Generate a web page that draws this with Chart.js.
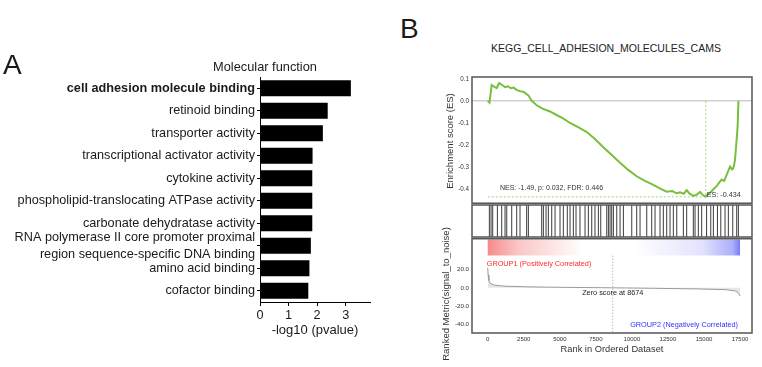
<!DOCTYPE html>
<html>
<head>
<meta charset="utf-8">
<script src="https://cdn.jsdelivr.net/npm/chart.js@4.4.0/dist/chart.umd.min.js"></script>
<style>
  body { margin: 0; background: #fff; }
  #page { position: relative; width: 762px; height: 367px; overflow: hidden;
          font-family: "Liberation Sans", Arial, sans-serif; color: #1a1a1a; }
  canvas { position: absolute; }
  .txt { position: absolute; white-space: nowrap; line-height: 1; }
  .rot { transform: translate(-50%, -50%) rotate(-90deg); }
</style>
</head>
<body>
<div id="page">
  <canvas id="goChart" width="390" height="367" style="left:0;top:0"></canvas>
  <canvas id="esChart" width="362" height="150" style="left:400px;top:60px"></canvas>
  <canvas id="hitChart" width="362" height="45" style="left:400px;top:200px"></canvas>
  <canvas id="metricChart" width="362" height="135" style="left:400px;top:232px"></canvas>

  <div class="txt" style="left:3px;top:51px;font-size:28px">A</div>
  <div class="txt" style="left:265px;top:61px;font-size:12.8px;transform:translateX(-50%)">Molecular function</div>
  <div class="txt" style="left:400px;top:15px;font-size:28px">B</div>
  <div class="txt" style="left:606px;top:43px;font-size:10.5px;color:#222;transform:translateX(-50%)">KEGG_CELL_ADHESION_MOLECULES_CAMS</div>
  <div class="txt rot" style="left:450px;top:141px;font-size:9.5px;color:#333">Enrichment score (ES)</div>
  <div class="txt rot" style="left:446px;top:294px;font-size:9.5px;color:#333">Ranked Metric(signal_to_noise)</div>
</div>

<script>
// Panel A - GO molecular function
const goTerms = [
  'cell adhesion molecule binding',
  'retinoid binding',
  'transporter activity',
  'transcriptional activator activity',
  'cytokine activity',
  'phospholipid-translocating ATPase activity',
  'carbonate dehydratase activity',
  ['RNA polymerase II core promoter proximal', 'region sequence-specific DNA binding'],
  'amino acid binding',
  'cofactor binding'
];
const goLogP = [3.18, 2.37, 2.2, 1.84, 1.83, 1.83, 1.83, 1.78, 1.73, 1.69];
const goTicks = [0, 1, 2, 3];

// Panel B - GSEA running enrichment score
const esRank = [0, 120, 280, 450, 620, 800, 1000, 1200, 1400, 1600, 1800, 2000, 2240, 2500, 2820,
  3050, 3400, 3800, 4320, 4800, 5200, 5710, 6300, 6870, 7400, 8020, 8600, 9180, 9700, 10330,
  10900, 11490, 12000, 12420, 12800, 13100, 13340, 13600, 13800, 14000, 14260, 14500, 14730,
  14900, 15120, 15300, 15420, 15650, 15880, 16050, 16230, 16400, 16600, 16810, 16950, 17040,
  17150, 17270, 17330, 17390];
const esScore = [0.0, -0.008, 0.072, 0.064, 0.058, 0.081, 0.072, 0.062, 0.066, 0.057, 0.06, 0.05,
  0.044, 0.04, 0.025, 0.0, -0.02, -0.035, -0.048, -0.065, -0.078, -0.1, -0.12, -0.141, -0.17,
  -0.21, -0.245, -0.28, -0.31, -0.341, -0.362, -0.38, -0.398, -0.411, -0.408, -0.418, -0.414,
  -0.42, -0.404, -0.42, -0.43, -0.424, -0.412, -0.425, -0.434, -0.42, -0.416, -0.4, -0.386,
  -0.37, -0.356, -0.362, -0.33, -0.297, -0.31, -0.304, -0.268, -0.171, -0.12, 0.0];
const esMin = -0.434;
const esMinRank = 15120;
const esTicks = [0.1, 0.0, -0.1, -0.2, -0.3, -0.4];

// gene set hits
const hitRanks = [115, 230, 345, 670, 970, 1200, 1320, 1665, 2010, 2240, 2700, 2820, 3745, 3860,
  4045, 4205, 4440, 4670, 5015, 5245, 5520, 5710, 5940, 6125, 6400, 6750, 6980, 7215, 7440,
  7675, 7840, 8255, 8370, 8485, 8600, 8715, 8950, 9180, 9410, 9990, 10335, 10565, 11030, 11375,
  11605, 11950, 12180, 12415, 12645, 12875, 13110, 13570, 13800, 14260, 14380, 14610, 14840,
  15180, 15470, 15650, 15935, 16165, 16460, 16690, 16995, 17270, 17385];

// ranked list metric
const metricRank = [0, 30, 80, 200, 500, 1200, 3000, 6000, 8674, 11500, 14500, 16500, 17200, 17400, 17500];
const metricValue = [22, 14, 8, 4.5, 2.8, 1.8, 1.0, 0.4, 0, -0.5, -1.2, -2, -3.5, -6, -9];
const metricTicks = [20, 0, -20, -40];
const rankTicks = [0, 2500, 5000, 7500, 10000, 12500, 15000, 17500];
const zeroCross = 8674;
const nesText = 'NES: -1.49, p: 0.032, FDR: 0.446';

const FONT = '"Liberation Sans", Arial, sans-serif';
Chart.defaults.font.family = FONT;
Chart.defaults.animation = false;
Chart.defaults.responsive = false;
Chart.defaults.plugins.legend.display = false;
Chart.defaults.plugins.tooltip.enabled = false;

const rankMin = -1090, rankMax = 18330;
const green = '#77bf3c';
const lightGreen = '#a2d677';

const frame = {
  id: 'frame',
  afterDraw(chart) {
    const { ctx, chartArea: a } = chart;
    ctx.save();
    ctx.strokeStyle = '#555';
    ctx.lineWidth = 1.5;
    ctx.strokeRect(a.left, a.top, a.right - a.left, a.bottom - a.top);
    ctx.restore();
  }
};

// A
new Chart(document.getElementById('goChart'), {
  type: 'bar',
  data: {
    labels: goTerms,
    datasets: [{ data: goLogP, backgroundColor: '#000', barPercentage: 0.71, categoryPercentage: 1 }]
  },
  options: {
    indexAxis: 'y',
    layout: { padding: { top: 77, right: 20, bottom: 25, left: 0 } },
    scales: {
      x: {
        min: 0, max: 3.85,
        afterBuildTicks: s => { s.ticks = goTicks.map(v => ({ value: v })); },
        afterFit: s => { s.height = 40; },
        ticks: { color: '#1a1a1a', font: { size: 12.7 }, padding: 2 },
        grid: { drawOnChartArea: false, tickLength: 4, color: '#000' },
        border: { color: '#000', width: 1 },
        title: { display: true, text: '-log10 (pvalue)', color: '#1a1a1a', font: { size: 13 }, padding: { top: 0, bottom: 4 } }
      },
      y: {
        afterFit: s => { s.width = 260; },
        ticks: {
          autoSkip: false, color: '#1a1a1a', padding: 2,
          font: c => c.index === 0
            ? { size: 12.7, weight: 'bold' }
            : { size: 12.7, lineHeight: 1.34 }
        },
        grid: { drawOnChartArea: false, offset: false, tickLength: 3, color: '#000' },
        border: { color: '#000', width: 1 }
      }
    }
  }
});

// B - running ES
new Chart(document.getElementById('esChart'), {
  type: 'line',
  data: {
    datasets: [
      { data: esRank.map((r, i) => ({ x: r, y: esScore[i] })), borderColor: green, borderWidth: 2, pointRadius: 0 },
      { data: [{ x: 0, y: esMin }, { x: esMinRank, y: esMin }], borderColor: lightGreen, borderWidth: 1, borderDash: [2, 2], pointRadius: 0 },
      { data: [{ x: esMinRank, y: 0 }, { x: esMinRank, y: esMin }], borderColor: lightGreen, borderWidth: 1, borderDash: [2, 2], pointRadius: 0 }
    ]
  },
  options: {
    layout: { padding: { top: 17, right: 10, bottom: 5, left: 0 } },
    scales: {
      x: { type: 'linear', display: false, min: rankMin, max: rankMax },
      y: {
        min: -0.463, max: 0.108,
        afterFit: s => { s.width = 72; },
        afterBuildTicks: s => { s.ticks = esTicks.map(v => ({ value: v })); },
        ticks: { callback: v => v.toFixed(1), color: '#333', font: { size: 6.3 }, padding: 3 },
        grid: { drawTicks: false, lineWidth: 1.5, color: c => (c.tick && c.tick.value === 0) ? '#cfcfcf' : 'rgba(0,0,0,0)' },
        border: { display: false }
      }
    }
  },
  plugins: [frame, {
    id: 'esText',
    afterDatasetsDraw(chart) {
      const { ctx, scales: { x, y } } = chart;
      ctx.save();
      ctx.fillStyle = '#333';
      ctx.textBaseline = 'middle';
      ctx.font = '7px ' + FONT;
      ctx.fillText(nesText, x.getPixelForValue(850), y.getPixelForValue(-0.396));
      ctx.font = '7.2px ' + FONT;
      ctx.fillText('ES: ' + esMin, x.getPixelForValue(esMinRank) + 1, y.getPixelForValue(esMin) - 2);
      ctx.restore();
    }
  }]
});

// B - hits, one vertical tick per gene of the set
new Chart(document.getElementById('hitChart'), {
  type: 'scatter',
  data: {
    datasets: [{
      data: hitRanks.map(r => ({ x: r, y: 0.5 })),
      pointStyle: 'line', rotation: 90, radius: 16, borderWidth: 1, borderColor: '#3c3c3c'
    }]
  },
  options: {
    layout: { autoPadding: false, padding: { top: 5, right: 10, bottom: 8, left: 72 } },
    scales: {
      x: { type: 'linear', display: false, min: rankMin, max: rankMax },
      y: { display: false, min: 0, max: 1 }
    }
  },
  plugins: [frame]
});

// B - ranked metric
new Chart(document.getElementById('metricChart'), {
  type: 'line',
  data: {
    datasets: [{
      data: metricRank.map((r, i) => ({ x: r, y: metricValue[i] })),
      borderColor: '#9a9a9a', borderWidth: 1, backgroundColor: 'rgba(200,200,200,0.45)',
      fill: 'origin', pointRadius: 0
    }]
  },
  options: {
    layout: { padding: { top: 5, right: 10, bottom: 8, left: 0 } },
    scales: {
      x: {
        type: 'linear', min: rankMin, max: rankMax,
        afterFit: s => { s.height = 26; },
        afterBuildTicks: s => { s.ticks = rankTicks.map(v => ({ value: v })); },
        ticks: { callback: v => String(v), color: '#333', font: { size: 6 }, padding: 3, maxRotation: 0 },
        grid: { display: false, drawTicks: false },
        border: { display: false },
        title: { display: true, text: 'Rank in Ordered Dataset', color: '#333', font: { size: 9.3 }, padding: { top: 0, bottom: 4 } }
      },
      y: {
        min: -49.4, max: 53.7,
        afterFit: s => { s.width = 72; },
        afterBuildTicks: s => { s.ticks = metricTicks.map(v => ({ value: v })); },
        ticks: { callback: v => v.toFixed(1), color: '#333', font: { size: 6.2 }, padding: 3 },
        grid: { display: false, drawTicks: false },
        border: { display: false }
      }
    }
  },
  plugins: [frame, {
    id: 'metricDecor',
    beforeDatasetsDraw(chart) {
      const { ctx, chartArea: a, scales: { x } } = chart;
      const x0 = x.getPixelForValue(0), x1 = x.getPixelForValue(17500);
      const g = ctx.createLinearGradient(x0, 0, x1, 0);
      g.addColorStop(0, '#f58a8a');
      g.addColorStop(0.12, '#fbc6c6');
      g.addColorStop(0.38, '#ffffff');
      g.addColorStop(0.58, '#ffffff');
      g.addColorStop(0.85, '#e2e2fd');
      g.addColorStop(0.97, '#adaffb');
      g.addColorStop(1, '#7c7cf5');
      ctx.save();
      ctx.fillStyle = g;
      ctx.fillRect(x0, a.top + 0.75, x1 - x0, 16);
      const xz = x.getPixelForValue(zeroCross);
      ctx.strokeStyle = '#9a9a9a';
      ctx.lineWidth = 1;
      ctx.setLineDash([1, 2]);
      ctx.beginPath();
      ctx.moveTo(xz, a.top + 17);
      ctx.lineTo(xz, a.bottom);
      ctx.stroke();
      ctx.restore();
    },
    afterDatasetsDraw(chart) {
      const { ctx, scales: { x, y } } = chart;
      ctx.save();
      ctx.textBaseline = 'middle';
      ctx.font = '7.3px ' + FONT;
      ctx.fillStyle = '#ff2a2a';
      ctx.fillText('GROUP1 (Positively Correlated)', x.getPixelForValue(0) - 1, y.getPixelForValue(26));
      ctx.fillStyle = '#222';
      ctx.textAlign = 'center';
      ctx.fillText('Zero score at ' + zeroCross, x.getPixelForValue(zeroCross), y.getPixelForValue(-5.5));
      ctx.fillStyle = '#3030ff';
      ctx.textAlign = 'right';
      ctx.fillText('GROUP2 (Negatively Correlated)', x.getPixelForValue(17500) - 2, y.getPixelForValue(-41));
      ctx.restore();
    }
  }]
});
</script>
</body>
</html>
